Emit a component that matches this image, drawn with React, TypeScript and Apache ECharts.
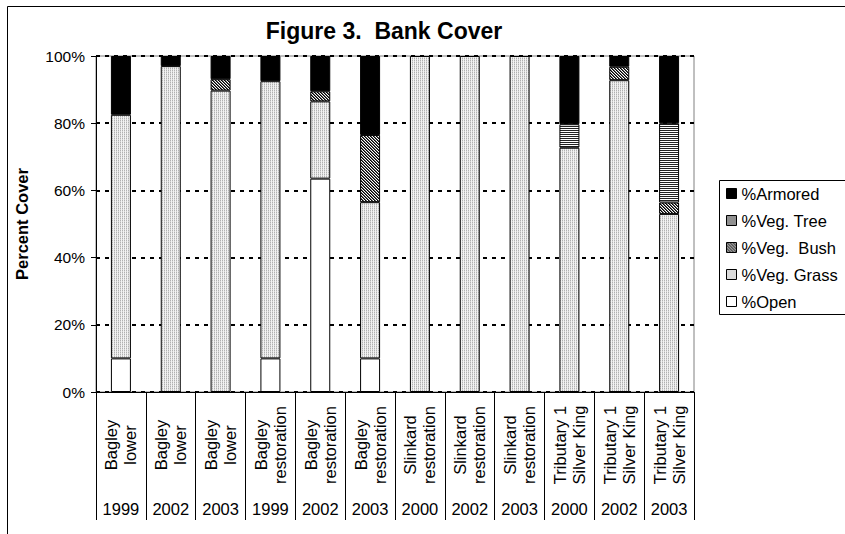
import React, { useEffect, useRef } from "react";
import * as echarts from "echarts";

const FONT = "'Liberation Sans', Arial, Helvetica, sans-serif";

const sites = [
  "Bagley\nlower", "Bagley\nlower", "Bagley\nlower",
  "Bagley\nrestoration", "Bagley\nrestoration", "Bagley\nrestoration",
  "Slinkard\nrestoration", "Slinkard\nrestoration", "Slinkard\nrestoration",
  "Tributary 1\nSilver King", "Tributary 1\nSilver King", "Tributary 1\nSilver King",
];
const years = ["1999", "2002", "2003", "1999", "2002", "2003", "2000", "2002", "2003", "2000", "2002", "2003"];

const openPct = [10, 0, 0, 10, 63.5, 10, 0, 0, 0, 0, 0, 0];
const grassPct = [72.5, 97, 89.7, 82.5, 23, 46.5, 100, 100, 100, 72.7, 92.8, 53];
const bushPct = [0, 0, 3.4, 0, 3, 20, 0, 0, 0, 0, 4, 3.4];
const treePct = [0, 0, 0, 0, 0, 0, 0, 0, 0, 7, 0, 23.6];
const armoredPct = [17.5, 3, 6.9, 7.5, 10.5, 23.5, 0, 0, 0, 20.3, 3.2, 20];

const seriesNames = ["%Open", "%Veg. Grass", "%Veg.  Bush", "%Veg. Tree", "%Armored"];
const legendOrder = ["%Armored", "%Veg. Tree", "%Veg.  Bush", "%Veg. Grass", "%Open"];

function makeTile(w: number, h: number, paint: (x: number, y: number) => string) {
  const c = document.createElement("canvas");
  c.width = w;
  c.height = h;
  const ctx = c.getContext("2d")!;
  for (let y = 0; y < h; y++) {
    for (let x = 0; x < w; x++) {
      ctx.fillStyle = paint(x, y);
      ctx.fillRect(x, y, 1, 1);
    }
  }
  return { image: c.toDataURL(), repeat: "repeat", imageWidth: w, imageHeight: h } as any;
}

export default function App() {
  const ref = useRef<HTMLDivElement>(null);

  useEffect(() => {
    if (!ref.current) return;
    const chart = echarts.init(ref.current, undefined, { renderer: "svg" });

    const grassFill = makeTile(4, 4, (x, y) =>
      x % 2 === 0 ? (y % 2 === 0 ? "#b0b0b0" : "#d6d6d6") : "#f2f2f2"
    );
    const bushFill = makeTile(3, 3, (x, y) => {
      const k = (x - y + 6) % 3;
      return k === 0 ? "#000000" : k === 1 ? "#606060" : "#ffffff";
    });
    const treeFill = makeTile(2, 2, (x, y) => (y % 2 === 0 ? "#222222" : "#ffffff"));

    const fills = ["#ffffff", grassFill, bushFill, treeFill, "#000000"];
    const values = [openPct, grassPct, bushPct, treePct, armoredPct];

    const series = seriesNames.map((name, i) => ({
      name,
      type: "bar",
      stack: "cover",
      barWidth: 20,
      xAxisIndex: 0,
      data: values[i].map((v) => (v === 0 ? null : v)),
      itemStyle: { color: fills[i], borderColor: "#000", borderWidth: 1 },
      emphasis: { disabled: true },
    }));

    chart.setOption({
      animation: false,
      textStyle: { fontFamily: FONT, color: "#000" },
      title: {
        text: "Figure 3.  Bank Cover",
        left: 384,
        top: 19,
        padding: 0,
        textAlign: "center",
        textStyle: { fontSize: 23, fontWeight: "bold", color: "#000", fontFamily: FONT },
      },
      graphic: [
        {
          type: "rect",
          shape: { x: 7.5, y: 6.5, width: 900, height: 600 },
          style: { fill: "none", stroke: "#000", lineWidth: 1 },
          silent: true,
          z: 100,
        },
        {
          type: "rect",
          shape: { x: 719.5, y: 180.5, width: 200, height: 134 },
          style: { fill: "none", stroke: "#000", lineWidth: 1 },
          silent: true,
          z: 100,
        },
      ],
      legend: {
        orient: "vertical",
        left: 719,
        top: 181,
        data: legendOrder,
        icon: "rect",
        itemWidth: 10,
        itemHeight: 10,
        itemGap: 10,
        itemStyle: { borderColor: "#000", borderWidth: 1 },
        textStyle: { fontSize: 16.5, color: "#000", fontFamily: FONT, lineHeight: 17 },
        padding: [4, 6, 6, 7],
        borderWidth: 0,
        selectedMode: false,
      },
      grid: {
        left: 96,
        right: 151,
        top: 56,
        bottom: 142,
        show: true,
        borderColor: "#808080",
        borderWidth: 1,
        backgroundColor: "transparent",
      },
      xAxis: [
        {
          type: "category",
          data: sites,
          position: "bottom",
          axisLine: { show: true, lineStyle: { color: "#000", width: 1 } },
          axisTick: { show: true, interval: 0, length: 128, lineStyle: { color: "#000", width: 1 } },
          axisLabel: {
            interval: 0,
            rotate: 90,
            align: "center",
            verticalAlign: "middle",
            margin: 53,
            fontSize: 16.5,
            lineHeight: 19,
            color: "#000",
            fontFamily: FONT,
          },
          splitLine: { show: false },
        },
        {
          type: "category",
          data: years,
          position: "bottom",
          axisLine: { show: false },
          axisTick: { show: false },
          axisLabel: {
            interval: 0,
            margin: 117,
            verticalAlign: "middle",
            fontSize: 16.5,
            color: "#000",
            fontFamily: FONT,
          },
          splitLine: { show: false },
        },
      ],
      yAxis: {
        type: "value",
        min: 0,
        max: 100,
        interval: 20,
        name: "Percent Cover",
        nameLocation: "middle",
        nameGap: 66,
        nameTextStyle: { fontSize: 16.5, fontWeight: "bold", color: "#000", fontFamily: FONT },
        axisLine: { show: true, lineStyle: { color: "#000", width: 1 } },
        axisTick: { show: true, length: 5, lineStyle: { color: "#000" } },
        axisLabel: { formatter: "{value}%", color: "#000", fontSize: 15.5, margin: 11, fontFamily: FONT },
        splitLine: { show: true, lineStyle: { color: "#000", width: 2, type: [4, 5] } },
      },
      series,
    });

    return () => chart.dispose();
  }, []);

  return (
    <div
      ref={ref}
      style={{ position: "absolute", left: 0, top: 0, width: 845, height: 534, background: "#fff" }}
    />
  );
}
